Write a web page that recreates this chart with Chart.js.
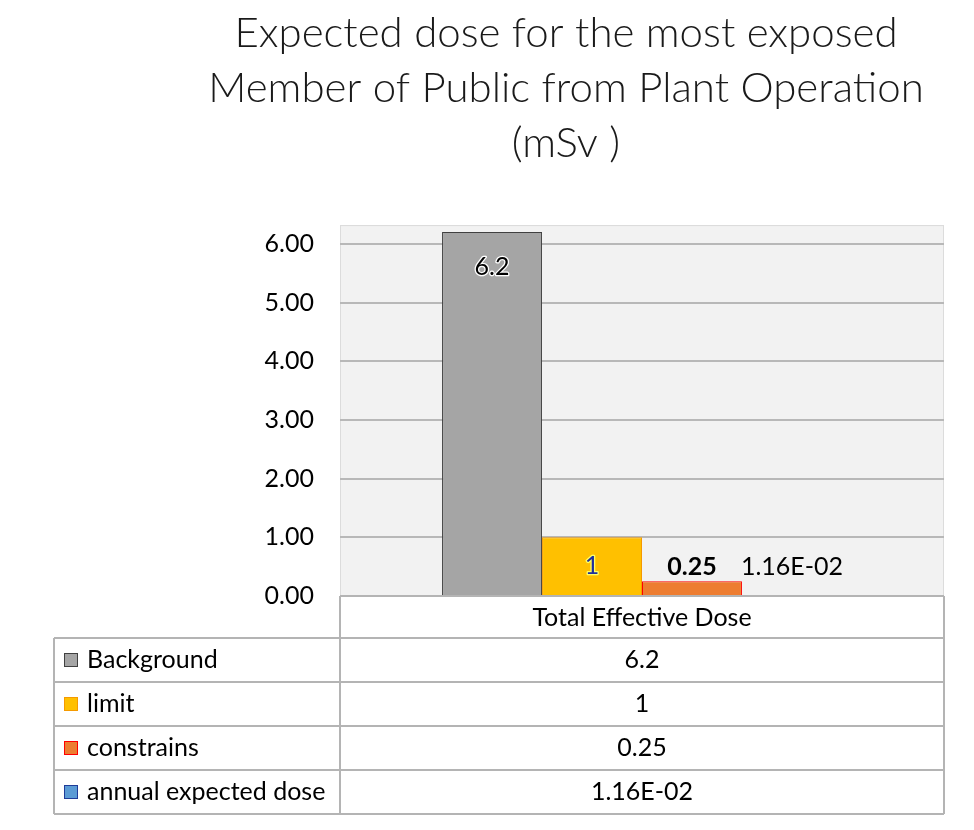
<!DOCTYPE html>
<html lang="en">

<head>
    <meta charset="UTF-8">
    <title>Expected dose</title>
    <style>
        body {
            margin: 0;
            padding: 0;
            background-color: #ffffff;
        }

        .chart-container {
            width: 974px;
            height: 830px;
        }
    </style>
</head>

<body>

    <div class="chart-container">
        <canvas id="chart1"></canvas>
    </div>

    <script src="https://cdn.jsdelivr.net/npm/chart.js"></script>

    <script>
        // Dados do gráfico
        const categorias = ['Total Effective Dose'];
        const series = ['Background', 'limit', 'constrains', 'annual expected dose'];
        const valores = [6.2, 1, 0.25, 0.0116];
        const yTicks = [0, 1, 2, 3, 4, 5, 6];

        const FONTE = 'Lato, "Open Sans", sans-serif';

        // Formato "General" / científico do Excel
        function formatarValor(v) {
            if (v !== 0 && Math.abs(v) < 0.1) {
                const [m, e] = v.toExponential(2).split('e');
                const exp = parseInt(e, 10);
                const sinal = exp < 0 ? '-' : '+';
                return m + 'E' + sinal + String(Math.abs(exp)).padStart(2, '0');
            }
            return String(v);
        }

        // Estilos de cada série
        const estilos = [
            { fundo: '#a5a5a5', borda: '#404040', label: { offset: -35, cor: '#000000', halo: '#ffffff', peso: 'normal' } },
            { fundo: '#ffc000', borda: '#f59a00', label: { center: true, cor: '#1f2f9e', halo: '#ffff66', peso: 'normal' } },
            { fundo: '#ed7d31', borda: '#ff0000', label: { offset: 14, cor: '#000000', halo: null, peso: 'bold' } },
            { fundo: '#5b9bd5', borda: '#1f3c99', label: { offset: 28, cor: '#000000', halo: null, peso: 'normal' } }
        ];

        // Fundo cinza da área do gráfico
        const fundoPlot = {
            id: 'fundoPlot',
            beforeDraw(chart) {
                const { ctx, chartArea: a } = chart;
                ctx.save();
                ctx.fillStyle = '#f2f2f2';
                ctx.fillRect(a.left, a.top, a.right - a.left, a.bottom - a.top);
                ctx.strokeStyle = '#dcdcdc';
                ctx.lineWidth = 1;
                ctx.strokeRect(a.left + 0.5, a.top + 0.5, a.right - a.left - 1, a.bottom - a.top);
                ctx.restore();
            }
        };

        // Rótulos de dados sobre as barras
        const rotulos = {
            id: 'rotulos',
            afterDatasetsDraw(chart) {
                const { ctx } = chart;
                ctx.save();
                ctx.textAlign = 'center';
                ctx.textBaseline = 'middle';
                chart.data.datasets.forEach((ds, i) => {
                    const meta = chart.getDatasetMeta(i);
                    const cfg = ds.rotulo;
                    meta.data.forEach((bar, j) => {
                        const texto = formatarValor(ds.data[j]);
                        const y = cfg.center ? (bar.y + bar.base) / 2 : bar.y - cfg.offset;
                        ctx.font = cfg.peso + ' 25px ' + FONTE;
                        if (cfg.halo) {
                            ctx.strokeStyle = cfg.halo;
                            ctx.lineWidth = 2.5;
                            ctx.lineJoin = 'round';
                            ctx.strokeText(texto, bar.x, y);
                        }
                        ctx.fillStyle = cfg.cor;
                        ctx.fillText(texto, bar.x, y);
                    });
                });
                ctx.restore();
            }
        };

        // Tabela de dados abaixo do gráfico
        const tabela = {
            id: 'tabela',
            afterDraw(chart) {
                const { ctx, chartArea: a } = chart;
                const esquerda = 54;
                const topo = a.bottom;
                const alturaCab = 42;
                const alturaLinha = 44;
                const n = chart.data.datasets.length;
                const fundo = topo + alturaCab + n * alturaLinha;
                const xCentro = chart.scales.x.getPixelForValue(0);

                ctx.save();
                ctx.strokeStyle = '#b4b4b4';
                ctx.lineWidth = 2;
                ctx.beginPath();
                // cabeçalho
                ctx.moveTo(a.left, topo);
                ctx.lineTo(a.right, topo);
                // linhas horizontais
                for (let i = 0; i <= n; i++) {
                    const y = topo + alturaCab + i * alturaLinha;
                    ctx.moveTo(esquerda, y);
                    ctx.lineTo(a.right, y);
                }
                // verticais
                ctx.moveTo(esquerda, topo + alturaCab);
                ctx.lineTo(esquerda, fundo);
                ctx.moveTo(a.left, topo);
                ctx.lineTo(a.left, fundo);
                ctx.moveTo(a.right, topo);
                ctx.lineTo(a.right, fundo);
                ctx.stroke();

                ctx.font = '25px ' + FONTE;
                ctx.textBaseline = 'middle';
                chart.data.datasets.forEach((ds, i) => {
                    const yc = topo + alturaCab + i * alturaLinha + alturaLinha / 2;
                    // chave da legenda
                    ctx.fillStyle = ds.backgroundColor;
                    ctx.fillRect(64, yc - 7, 14, 14);
                    ctx.strokeStyle = ds.borderColor;
                    ctx.lineWidth = 1;
                    ctx.strokeRect(64.5, yc - 6.5, 13, 13);
                    // nome da série
                    ctx.fillStyle = '#000000';
                    ctx.textAlign = 'left';
                    ctx.fillText(ds.label, 87, yc);
                    // valor
                    ctx.textAlign = 'center';
                    ctx.fillText(formatarValor(ds.data[0]), xCentro, yc);
                });
                ctx.restore();
            }
        };

        const datasets = series.map((nome, i) => ({
            label: nome,
            data: [valores[i]],
            backgroundColor: estilos[i].fundo,
            borderColor: estilos[i].borda,
            borderWidth: 1,
            rotulo: estilos[i].label
        }));

        const ctx = document.getElementById('chart1').getContext('2d');
        new Chart(ctx, {
            type: 'bar',
            data: {
                labels: categorias,
                datasets: datasets
            },
            options: {
                responsive: true,
                maintainAspectRatio: false,
                animation: false,
                categoryPercentage: 0.662,
                barPercentage: 1,
                layout: {
                    padding: { left: 188, right: 30, top: 0, bottom: 16 }
                },
                plugins: {
                    legend: { display: false },
                    tooltip: { enabled: false },
                    title: {
                        display: true,
                        text: ['Expected dose for the most exposed', 'Member of Public from Plant Operation', '(mSv )'],
                        color: '#1a1a1a',
                        font: { family: FONTE, size: 42, weight: 300, lineHeight: 1.31 },
                        padding: { top: 6, bottom: 54 }
                    }
                },
                scales: {
                    x: {
                        grid: { display: false, drawTicks: false },
                        border: { display: false },
                        ticks: {
                            color: '#000000',
                            font: { family: FONTE, size: 25 },
                            padding: 7
                        },
                        afterFit(axis) {
                            axis.height = 218;
                        }
                    },
                    y: {
                        min: 0,
                        max: 6.32,
                        grid: { color: '#b8b8b8', lineWidth: 2, drawTicks: false },
                        border: { display: false },
                        afterBuildTicks(axis) {
                            axis.ticks = yTicks.map(v => ({ value: v }));
                        },
                        ticks: {
                            color: '#000000',
                            font: { family: FONTE, size: 25 },
                            padding: 26,
                            callback: v => v.toFixed(2)
                        },
                        afterFit(axis) {
                            axis.width = 152;
                        }
                    }
                }
            },
            plugins: [fundoPlot, rotulos, tabela]
        });
    </script>

</body>

</html>
